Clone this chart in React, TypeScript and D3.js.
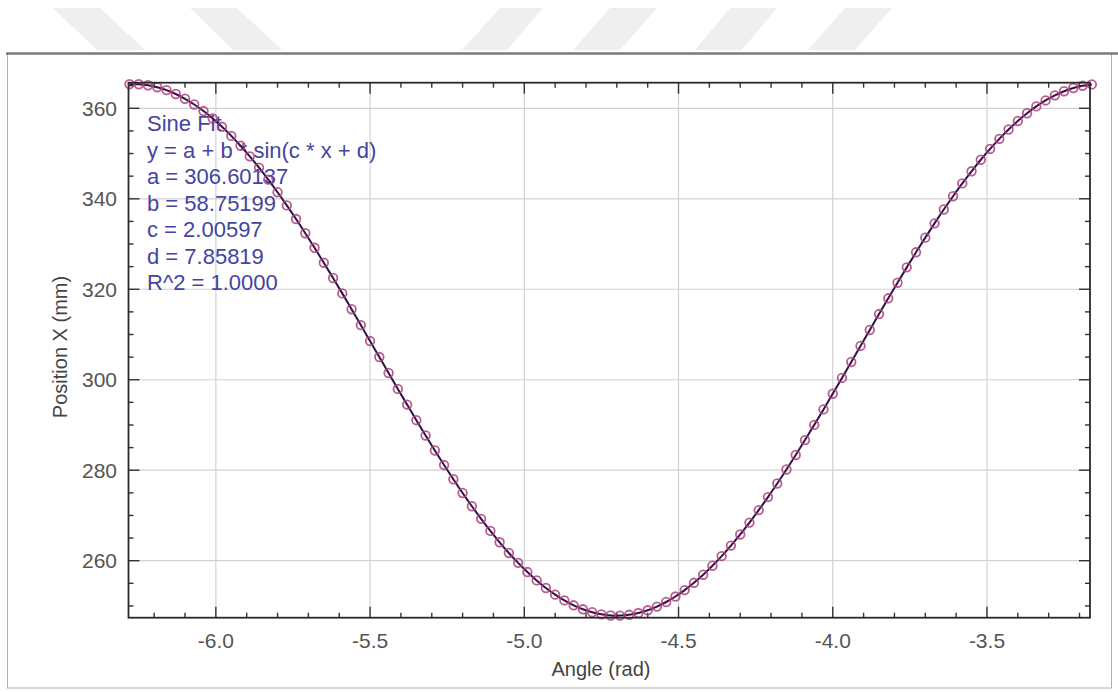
import { useEffect, useRef } from 'react';
import * as d3 from 'd3';

// measured angle (rad) and position (mm) samples
const angles = [
  -6.28, -6.25, -6.22, -6.19, -6.16, -6.13, -6.10, -6.07, -6.04, -6.01,
  -5.98, -5.95, -5.92, -5.89, -5.86, -5.83, -5.80, -5.77, -5.74, -5.71,
  -5.68, -5.65, -5.62, -5.59, -5.56, -5.53, -5.50, -5.47, -5.44, -5.41,
  -5.38, -5.35, -5.32, -5.29, -5.26, -5.23, -5.20, -5.17, -5.14, -5.11,
  -5.08, -5.05, -5.02, -4.99, -4.96, -4.93, -4.90, -4.87, -4.84, -4.81,
  -4.78, -4.75, -4.72, -4.69, -4.66, -4.63, -4.60, -4.57, -4.54, -4.51,
  -4.48, -4.45, -4.42, -4.39, -4.36, -4.33, -4.30, -4.27, -4.24, -4.21,
  -4.18, -4.15, -4.12, -4.09, -4.06, -4.03, -4.00, -3.97, -3.94, -3.91,
  -3.88, -3.85, -3.82, -3.79, -3.76, -3.73, -3.70, -3.67, -3.64, -3.61,
  -3.58, -3.55, -3.52, -3.49, -3.46, -3.43, -3.40, -3.37, -3.34, -3.31,
  -3.28, -3.25, -3.22, -3.19, -3.16
];

const positions = [
  365.33, 365.32, 365.10, 364.66, 364.02, 363.16, 362.11, 360.85, 359.39, 357.74,
  355.91, 353.90, 351.72, 349.38, 346.88, 344.23, 341.45, 338.54, 335.52, 332.39,
  329.17, 325.87, 322.49, 319.09, 315.59, 312.08, 308.55, 305.02, 301.49, 297.97,
  294.50, 291.06, 287.68, 284.37, 281.14, 278.00, 274.97, 272.04, 269.25, 266.59,
  264.07, 261.71, 259.52, 257.49, 255.64, 253.97, 252.50, 251.22, 250.14, 249.26,
  248.60, 248.14, 247.89, 247.86, 248.04, 248.43, 249.04, 249.85, 250.87, 252.08,
  253.50, 255.11, 256.90, 258.88, 261.02, 263.34, 265.80, 268.42, 271.18, 274.06,
  277.06, 280.17, 283.37, 286.66, 290.02, 293.44, 296.91, 300.41, 303.93, 307.47,
  311.00, 314.52, 318.00, 321.45, 324.84, 328.17, 331.41, 334.57, 337.63, 340.57,
  343.40, 346.08, 348.63, 351.02, 353.25, 355.32, 357.20, 358.91, 360.42, 361.74,
  362.86, 363.78, 364.49, 364.99, 365.28
];

const xMajorTicks = [-6.0, -5.5, -5.0, -4.5, -4.0, -3.5];
const yMajorTicks = [260, 280, 300, 320, 340, 360];

const fitLabels = [
  "Sine Fit",
  "y = a + b * sin(c * x + d)",
  "a = 306.60137",
  "b = 58.75199",
  "c = 2.00597",
  "d = 7.85819",
  "R^2 = 1.0000"
];

const font = "'Liberation Sans', Arial, sans-serif";

export default function App() {
  const ref = useRef<SVGSVGElement>(null);

  useEffect(() => {
    const svg = d3.select(ref.current);
    svg.selectAll('*').remove();

    const left = 128.5, right = 1090, top = 82.7, bottom = 617.7;
    const x = d3.scaleLinear().domain([-2 * Math.PI, -3.166]).range([left, right]);
    const y = d3.scaleLinear().domain([247.4, 365.66]).range([bottom, top]);

    // faint watermark stripes at the top
    const stripes = [
      [[53, 8], [100, 8], [145, 50], [97, 50]],
      [[190, 8], [237, 8], [282, 50], [233, 50]],
      [[500, 8], [543, 8], [507, 50], [462, 50]],
      [[610, 8], [657, 8], [620, 50], [573, 50]],
      [[730, 8], [777, 8], [742, 50], [695, 50]],
      [[845, 8], [892, 8], [855, 50], [808, 50]]
    ];
    svg.selectAll('.stripe').data(stripes).enter().append('polygon')
      .attr('points', d => d.map(p => p.join(',')).join(' '))
      .attr('fill', '#efefef');

    // outer frame
    svg.append('rect').attr('x', 7.5).attr('y', 53.5).attr('width', 1104).attr('height', 634.5)
      .attr('fill', 'white').attr('stroke', '#b0b0b0').attr('stroke-width', 1);
    svg.append('line').attr('x1', 6).attr('x2', 1118).attr('y1', 53.5).attr('y2', 53.5)
      .attr('stroke', '#7a7a7a').attr('stroke-width', 2.5);

    // grid
    const g = svg.append('g');
    g.selectAll('.gx').data(xMajorTicks).enter().append('line')
      .attr('x1', d => x(d)).attr('x2', d => x(d)).attr('y1', top).attr('y2', bottom)
      .attr('stroke', '#d2d2d2').attr('stroke-width', 1.2);
    g.selectAll('.gy').data(yMajorTicks).enter().append('line')
      .attr('x1', left).attr('x2', right).attr('y1', d => y(d)).attr('y2', d => y(d))
      .attr('stroke', '#d2d2d2').attr('stroke-width', 1.2);

    // ticks, pointing inward on all four sides
    const xMinor = d3.range(-6.2, -3.15, 0.1).filter(v => !xMajorTicks.some(m => Math.abs(m - v) < 1e-6));
    const yMinor = d3.range(250, 366, 5).filter(v => v % 20 !== 0);
    const tickColor = '#333';
    const addX = (vals: number[], len: number) => {
      g.selectAll(null).data(vals).enter().append('line')
        .attr('x1', d => x(d)).attr('x2', d => x(d)).attr('y1', bottom).attr('y2', bottom - len)
        .attr('stroke', tickColor).attr('stroke-width', 1.4);
      g.selectAll(null).data(vals).enter().append('line')
        .attr('x1', d => x(d)).attr('x2', d => x(d)).attr('y1', top).attr('y2', top + len)
        .attr('stroke', tickColor).attr('stroke-width', 1.4);
    };
    const addY = (vals: number[], len: number) => {
      g.selectAll(null).data(vals).enter().append('line')
        .attr('x1', left).attr('x2', left + len).attr('y1', d => y(d)).attr('y2', d => y(d))
        .attr('stroke', tickColor).attr('stroke-width', 1.4);
      g.selectAll(null).data(vals).enter().append('line')
        .attr('x1', right).attr('x2', right - len).attr('y1', d => y(d)).attr('y2', d => y(d))
        .attr('stroke', tickColor).attr('stroke-width', 1.4);
    };
    addX(xMajorTicks, 11);
    addX(xMinor, 5);
    addY(yMajorTicks, 11);
    addY(yMinor, 5);

    // tick labels
    g.selectAll('.xl').data(xMajorTicks).enter().append('text')
      .attr('x', d => x(d)).attr('y', 648)
      .attr('text-anchor', 'middle')
      .style('font', `21px ${font}`).attr('fill', '#555')
      .text(d => d3.format('.1f')(d).replace('−', '-'));
    g.selectAll('.yl').data(yMajorTicks).enter().append('text')
      .attr('x', 117).attr('y', d => y(d))
      .attr('text-anchor', 'end').attr('dominant-baseline', 'central')
      .style('font', `21px ${font}`).attr('fill', '#555')
      .text(d => d);

    // axis titles
    svg.append('text').attr('x', 601).attr('y', 676).attr('text-anchor', 'middle')
      .style('font', `20px ${font}`).attr('fill', '#444').text('Angle (rad)');
    svg.append('text').attr('transform', 'translate(67,347) rotate(-90)').attr('text-anchor', 'middle')
      .style('font', `20px ${font}`).attr('fill', '#444').text('Position X (mm)');

    // fit annotation
    svg.selectAll('.fit').data(fitLabels).enter().append('text')
      .attr('x', 147).attr('y', (d, i) => 123.5 + i * 26.5)
      .attr('dominant-baseline', 'central')
      .style('font', `22px ${font}`).attr('fill', '#4444a2')
      .text(d => d);

    // data + fitted line
    const pts = angles.map((a, i) => [a, positions[i]] as [number, number]);
    const line = d3.line<[number, number]>().x(d => x(d[0])).y(d => y(d[1])).curve(d3.curveCatmullRom);
    svg.append('path').datum(pts).attr('d', line)
      .attr('fill', 'none').attr('stroke', '#2a1448').attr('stroke-width', 2);
    svg.selectAll('.pt').data(pts).enter().append('circle')
      .attr('cx', d => x(d[0])).attr('cy', d => y(d[1])).attr('r', 4.3)
      .attr('fill', 'none').attr('stroke', '#b0407a').attr('stroke-width', 1.8).attr('stroke-opacity', 0.85);

    // plot box
    svg.append('rect').attr('x', left).attr('y', top).attr('width', right - left).attr('height', bottom - top)
      .attr('fill', 'none').attr('stroke', '#2a2a2a').attr('stroke-width', 1.8);
  }, []);

  return (
    <div style={{ position: 'absolute', left: 0, top: 0 }}>
      <svg ref={ref} width={1118} height={692} />
    </div>
  );
}
